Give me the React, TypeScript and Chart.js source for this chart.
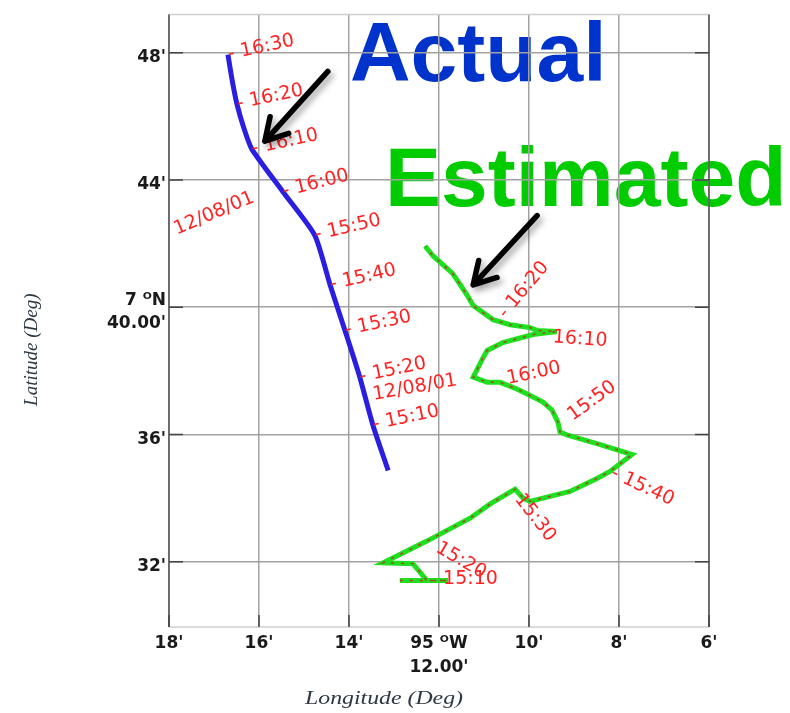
import { useEffect, useRef } from "react";
import { Chart, registerables } from "chart.js";

Chart.register(...registerables);

// ---- axes ----
const xTickValues = [18, 16, 14, 12, 10, 8, 6];
const xTickLabels: (string | string[])[] = ["18'", "16'", "14'", ["95 ᴼW", "12.00'"], "10'", "8'", "6'"];
const yTickValues = [32, 36, 40, 44, 48];
const yTickLabels: (string | string[])[] = ["32'", "36'", ["7 ᴼN", "40.00'"], "44'", "48'"];

// ---- actual track (minutes of longitude W of 95°, minutes of latitude N of 7°) ----
const actualLon = [16.69, 16.6, 16.49, 16.33, 16.16, 15.47, 14.76, 14.42, 14.09, 13.76, 13.47, 13.13];
const actualLat = [47.94, 47.16, 46.38, 45.6, 44.97, 43.63, 42.26, 40.7, 39.27, 37.8, 36.3, 34.87];

// ---- estimated track ----
const estimatedLon = [
  12.87, 11.8, 12.27, 12.58, 13.24, 12.27, 11.31, 10.87, 10.31, 10.13, 9.98, 9.09, 8.49, 8.2, 7.71,
  8.04, 8.49, 9.16, 9.31, 9.36, 9.49, 9.69, 10.04, 10.27, 10.64, 10.93, 11.24, 11.04, 10.93, 10.58,
  9.91, 9.38, 9.82, 9.98, 10.42, 10.8, 11.24, 11.38, 11.6, 11.71, 12.13, 12.31,
];
const estimatedLat = [
  31.41, 31.41, 31.41, 31.94, 31.97, 32.65, 33.37, 33.81, 34.28, 34.0, 33.9, 34.21, 34.62, 34.84, 35.37,
  35.52, 35.71, 35.99, 36.08, 36.4, 36.77, 37.02, 37.27, 37.43, 37.64, 37.64, 37.8, 38.36, 38.64, 38.89,
  39.14, 39.24, 39.27, 39.36, 39.45, 39.61, 40.05, 40.39, 40.86, 41.08, 41.61, 41.92,
];

// ---- time stamps ----
const actualTimes = ["16:30", "16:20", "16:10", "16:00", "15:50", "15:40", "15:30", "15:20", "15:10"];
const actualTimeLon = [16.69, 16.49, 16.16, 15.47, 14.76, 14.42, 14.09, 13.76, 13.47];
const actualTimeLat = [47.94, 46.38, 44.97, 43.63, 42.26, 40.7, 39.27, 37.8, 36.3];
const actualTimeAngle = [-12, -12, -12, -14, -13, -13, -12, -12, -12];

const dateTexts = ["12/08/01", "12/08/01"];
const dateLon = [17.87, 13.47];
const dateLat = [42.42, 37.24];
const dateAngle = [-23, -10];

const estTimes = ["16:20", "16:10", "16:00", "15:50", "15:40", "15:30", "15:20", "15:10"];
const estTimeLon = [10.6, 9.47, 10.49, 9.09, 8.16, 10.24, 12.04, 11.91];
const estTimeLat = [39.73, 39.05, 37.74, 36.55, 34.81, 34.06, 32.47, 31.47];
const estTimeAngle = [-50, 4, -12, -36, 25, 52, 30, 0];
const estTimeDash = [true, false, false, false, true, false, false, false];

// ---- callouts ----
const calloutTexts = ["Actual", "Estimated"];
const calloutLon = [13.98, 13.2];
const calloutLat = [47.1, 43.17];
const calloutColors = ["#0033cc", "#00cc00"];

const arrowFromLon = [14.47, 9.82];
const arrowFromLat = [47.41, 42.88];
const arrowToLon = [15.87, 11.24];
const arrowToLat = [45.22, 40.7];

const X_MIN = 6;
const X_MAX = 18;
const Y_MIN = 29.95;
const Y_MAX = 49.2;

const zip = (xs: number[], ys: number[]) => xs.map((x, i) => ({ x, y: ys[i] }));

const overlayPlugin = {
  id: "overlay",
  beforeDraw(chart: any) {
    const { ctx, scales } = chart;
    const x = scales.x;
    const y = scales.y;
    ctx.save();
    ctx.font = 'bold 84px "Liberation Sans", Arial, sans-serif';
    ctx.textAlign = "left";
    ctx.textBaseline = "alphabetic";
    calloutTexts.forEach((t, i) => {
      ctx.fillStyle = calloutColors[i];
      ctx.fillText(t, x.getPixelForValue(calloutLon[i]), y.getPixelForValue(calloutLat[i]));
    });
    ctx.restore();
  },
  afterDatasetsDraw(chart: any) {
    const { ctx, chartArea: ca, scales } = chart;
    const x = scales.x;
    const y = scales.y;
    ctx.save();

    // frame
    ctx.lineWidth = 1.5;
    ctx.strokeStyle = "#cfcfcf";
    ctx.beginPath();
    ctx.moveTo(ca.left, ca.top);
    ctx.lineTo(ca.right, ca.top);
    ctx.moveTo(ca.left, ca.bottom);
    ctx.lineTo(ca.right, ca.bottom);
    ctx.stroke();
    ctx.strokeStyle = "#555";
    ctx.beginPath();
    ctx.moveTo(ca.left, ca.top);
    ctx.lineTo(ca.left, ca.bottom);
    ctx.moveTo(ca.right, ca.top);
    ctx.lineTo(ca.right, ca.bottom);
    ctx.stroke();
    // inner ticks
    ctx.strokeStyle = "#444";
    ctx.lineWidth = 1.5;
    ctx.beginPath();
    xTickValues.forEach((v) => {
      const px = x.getPixelForValue(v);
      ctx.moveTo(px, ca.bottom);
      ctx.lineTo(px, ca.bottom - 12);
    });
    yTickValues.forEach((v) => {
      const py = y.getPixelForValue(v);
      ctx.moveTo(ca.left, py);
      ctx.lineTo(ca.left + 14, py);
      ctx.moveTo(ca.right, py);
      ctx.lineTo(ca.right - 14, py);
    });
    ctx.stroke();

    // time labels
    ctx.fillStyle = "#ff2222";
    ctx.font = '19px "DejaVu Sans", sans-serif';
    ctx.textAlign = "left";
    ctx.textBaseline = "middle";
    const drawLabel = (text: string, lon: number, lat: number, angle: number) => {
      ctx.save();
      ctx.translate(x.getPixelForValue(lon), y.getPixelForValue(lat));
      ctx.rotate((angle * Math.PI) / 180);
      ctx.fillText(text, 0, 0);
      ctx.restore();
    };
    actualTimes.forEach((t, i) => drawLabel("- " + t, actualTimeLon[i], actualTimeLat[i], actualTimeAngle[i]));
    dateTexts.forEach((t, i) => drawLabel(t, dateLon[i], dateLat[i], dateAngle[i]));
    estTimes.forEach((t, i) =>
      drawLabel((estTimeDash[i] ? "- " : "") + t, estTimeLon[i], estTimeLat[i], estTimeAngle[i])
    );

    // arrows
    ctx.strokeStyle = "#000";
    ctx.lineWidth = 5.5;
    ctx.lineCap = "round";
    ctx.lineJoin = "round";
    ctx.shadowColor = "rgba(0,0,0,0.35)";
    ctx.shadowBlur = 6;
    ctx.shadowOffsetX = 3;
    ctx.shadowOffsetY = 4;
    arrowFromLon.forEach((_, i) => {
      const x1 = x.getPixelForValue(arrowFromLon[i]);
      const y1 = y.getPixelForValue(arrowFromLat[i]);
      const x2 = x.getPixelForValue(arrowToLon[i]);
      const y2 = y.getPixelForValue(arrowToLat[i]);
      const ang = Math.atan2(y2 - y1, x2 - x1);
      const len = 25;
      const spread = Math.PI / 6;
      ctx.beginPath();
      ctx.moveTo(x1, y1);
      ctx.lineTo(x2, y2);
      ctx.moveTo(x2 - len * Math.cos(ang - spread), y2 - len * Math.sin(ang - spread));
      ctx.lineTo(x2, y2);
      ctx.lineTo(x2 - len * Math.cos(ang + spread), y2 - len * Math.sin(ang + spread));
      ctx.stroke();
    });
    ctx.shadowColor = "transparent";

    // axis titles
    ctx.fillStyle = "#2c3844";
    ctx.font = 'italic 19px "Liberation Serif", "Times New Roman", serif';
    ctx.textAlign = "center";
    ctx.textBaseline = "middle";
    ctx.save();
    ctx.translate(ca.left - 137, (ca.top + ca.bottom) / 2 + 29);
    ctx.rotate(-Math.PI / 2);
    ctx.fillText("Latitude (Deg)", 0, 0);
    ctx.restore();
    ctx.save();
    const lonTitle = "Longitude (Deg)";
    const w = ctx.measureText(lonTitle).width;
    ctx.translate(ca.left + 215, ca.bottom + 72);
    ctx.scale(158 / w, 1);
    ctx.fillText(lonTitle, 0, 0);
    ctx.restore();

    ctx.restore();
  },
};

export default function App() {
  const canvasRef = useRef<HTMLCanvasElement | null>(null);

  useEffect(() => {
    const canvas = canvasRef.current;
    if (!canvas) return;
    const chart = new Chart(canvas, {
      type: "scatter",
      data: {
        datasets: [
          {
            label: "Estimated (marks)",
            data: zip(estimatedLon, estimatedLat),
            showLine: true,
            borderColor: "rgba(200,40,40,0.85)",
            borderWidth: 1.5,
            borderDash: [3, 7],
            pointRadius: 0,
            tension: 0,
          },
          {
            label: "Estimated",
            data: zip(estimatedLon, estimatedLat),
            showLine: true,
            borderColor: "#1ee01e",
            borderWidth: 5,
            pointRadius: 0,
            tension: 0,
          },
          {
            label: "Actual",
            data: zip(actualLon, actualLat),
            showLine: true,
            borderColor: "#2a1fe0",
            borderWidth: 5,
            pointRadius: 0,
            tension: 0.2,
          },
        ],
      },
      options: {
        animation: false,
        responsive: false,
        devicePixelRatio: 1,
        layout: { padding: { left: 0, top: 9, right: 81, bottom: 0 } },
        plugins: { legend: { display: false }, tooltip: { enabled: false } },
        scales: {
          x: {
            type: "linear",
            min: X_MIN,
            max: X_MAX,
            reverse: true,
            position: "bottom",
            afterBuildTicks: (s: any) => {
              s.ticks = xTickValues.map((v) => ({ value: v }));
            },
            afterFit: (s: any) => {
              s.height = 86;
            },
            border: { display: false },
            grid: { color: "#a2a2a2", lineWidth: 1.5, drawTicks: false },
            ticks: {
              padding: 5,
              autoSkip: false,
              maxRotation: 0,
              color: "#1a1a1a",
              font: { family: '"DejaVu Sans", sans-serif', size: 17, weight: "bold", lineHeight: 1.4 },
              callback: (v: any) => {
                const i = xTickValues.indexOf(Number(v));
                return i >= 0 ? xTickLabels[i] : "";
              },
            },
          },
          y: {
            type: "linear",
            min: Y_MIN,
            max: Y_MAX,
            afterBuildTicks: (s: any) => {
              s.ticks = yTickValues.map((v) => ({ value: v }));
            },
            afterFit: (s: any) => {
              s.width = 169;
            },
            border: { display: false },
            grid: { color: "#a2a2a2", lineWidth: 1.5, drawTicks: false },
            ticks: {
              padding: 3,
              labelOffset: 5,
              color: "#1a1a1a",
              font: { family: '"DejaVu Sans", sans-serif', size: 17, weight: "bold", lineHeight: 1.35 },
              callback: (v: any) => {
                const i = yTickValues.indexOf(Number(v));
                return i >= 0 ? yTickLabels[i] : "";
              },
            },
          },
        },
      },
      plugins: [overlayPlugin],
    } as any);
    return () => chart.destroy();
  }, []);

  return (
    <div style={{ position: "absolute", left: 0, top: 0, width: 790, height: 713, background: "#fff" }}>
      <canvas ref={canvasRef} width={790} height={713} />
    </div>
  );
}
